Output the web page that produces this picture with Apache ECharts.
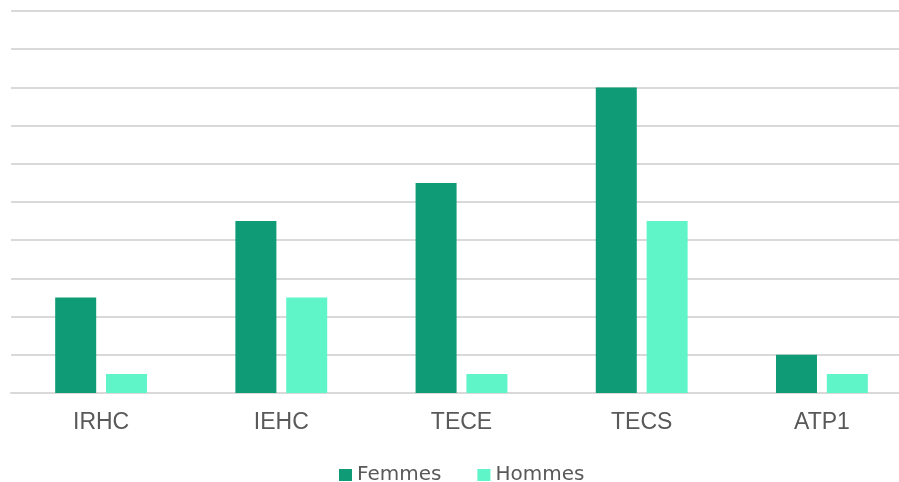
<!DOCTYPE html>
<html><head><meta charset="utf-8">
<script src="https://cdn.jsdelivr.net/npm/echarts@6/dist/echarts.min.js"></script>
<style>html,body{margin:0;padding:0;background:#fff}#c{width:899px;height:482px}</style>
</head><body><div id="c"></div>
<script>
const categories = ['IRHC', 'IEHC', 'TECE', 'TECS', 'ATP1'];
const femmes = [2.5, 4.5, 5.5, 8, 1];
const hommes = [0.5, 2.5, 0.5, 4.5, 0.5];
const seriesNames = ['Femmes', 'Hommes'];

const chart = echarts.init(document.getElementById('c'), null, {renderer: 'canvas'});
chart.setOption({
  animation: false,
  backgroundColor: '#ffffff',
  textStyle: {fontFamily: 'Liberation Sans, Arial, sans-serif'},
  grid: {left: 11, width: 901, top: 11, bottom: 89, containLabel: false, outerBoundsMode: 'none'},
  legend: {
    top: 465, left: 339, padding: 0, itemWidth: 13, itemHeight: 12, itemGap: 36,
    icon: 'rect',
    textStyle: {color: '#595959', fontSize: 20, fontFamily: 'DejaVu Sans, sans-serif'},
    data: seriesNames
  },
  xAxis: {
    type: 'category', data: categories,
    axisLine: {show: true, lineStyle: {color: '#d9d9d9', width: 2}},
    axisTick: {show: false},
    axisLabel: {color: '#595959', fontSize: 23, margin: 18, fontFamily: 'Liberation Sans, Arial, sans-serif'}
  },
  yAxis: {
    type: 'value', min: 0, max: 10, interval: 1,
    axisLabel: {show: false}, axisLine: {show: false}, axisTick: {show: false},
    splitLine: {lineStyle: {color: '#d9d9d9', width: 2}}
  },
  series: [
    {name: seriesNames[0], type: 'bar', data: femmes, barWidth: 41, barGap: '24%', itemStyle: {color: '#0f9b75'}},
    {name: seriesNames[1], type: 'bar', data: hommes, barWidth: 41, itemStyle: {color: '#5ff5c9'}}
  ]
});
</script></body></html>
